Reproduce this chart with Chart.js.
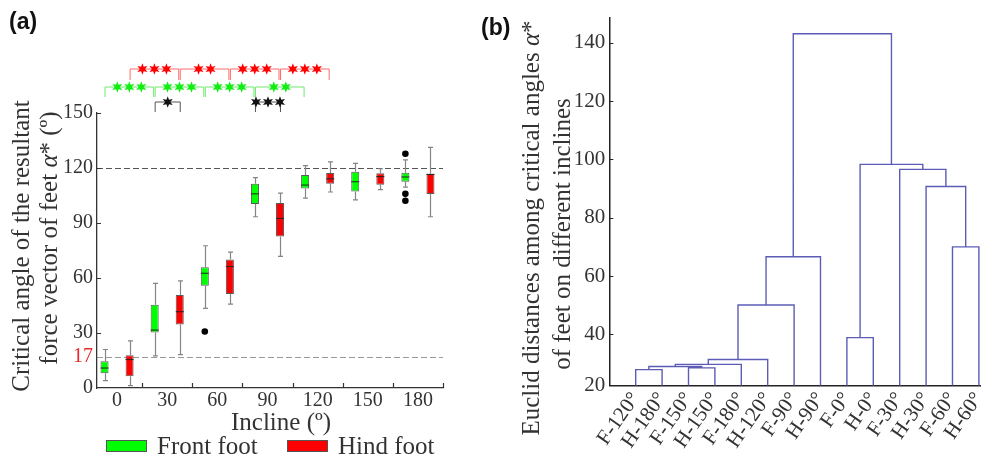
<!DOCTYPE html>
<html><head><meta charset="utf-8">
<script src="https://cdn.jsdelivr.net/npm/chart.js@4.4.0/dist/chart.umd.min.js"></script>
<style>
html,body{margin:0;padding:0;background:#fff;}
#wrap{position:relative;width:981px;height:458px;overflow:hidden;}
canvas{position:absolute;left:0;top:0;}
</style></head><body>
<div id="wrap"><canvas id="ca" width="981" height="458"></canvas><canvas id="cb" width="981" height="458"></canvas></div>
<script>
// ---------- Panel (a) data ----------
const inclines = [0, 30, 60, 90, 120, 150, 180];
const frontMin = [4.0, 17.5, 43.4, 93.4, 103.6, 102.6, 109.6];
const frontQ1  = [8.0, 30.3, 55.8, 100.3, 108.8, 107.2, 112.5];
const frontMed = [10.9, 31.6, 62.6, 105.9, 110.7, 112.5, 115.1];
const frontQ3  = [14.6, 45.4, 65.8, 111.4, 116.2, 118.0, 117.4];
const frontMax = [21.0, 57.1, 77.6, 114.7, 121.3, 122.5, 124.4];
const hindMin  = [1.3, 18.2, 45.8, 71.8, 106.9, 108.2, 93.4];
const hindQ1   = [6.4, 34.6, 51.3, 82.6, 111.4, 110.9, 105.8];
const hindMed  = [15.5, 41.6, 66.2, 92.5, 114.1, 115.3, 116.5];
const hindQ3   = [17.9, 50.7, 70.1, 100.9, 117.3, 117.1, 116.9];
const hindMax  = [25.7, 58.4, 74.1, 106.3, 123.3, 119.6, 131.3];
const frontOutliers = [[60, 30.8], [180, 127.8], [180, 105.9], [180, 102.1]];
const hindOutliers = [];
const yTicksA = [0, 17, 30, 60, 90, 120, 150];
const refLinesA = [17, 120];
const seriesNames = ['Front foot', 'Hind foot'];
// significance: [incline1, incline2, number of stars]
const sigHind  = [[0, 30, 3], [30, 60, 2], [60, 90, 3], [90, 120, 3]];
const sigFront = [[0, 30, 3], [30, 60, 3], [60, 90, 3], [90, 120, 2]];
// front vs hind at same incline: [incline, stars]
const sigFrontHind = [[30, 1], [90, 3]];

// ---------- Panel (b) data ----------
const leafLabels = ['F-120°','H-180°','F-150°','H-150°','F-180°','H-120°','F-90°','H-90°','F-0°','H-0°','F-30°','H-30°','F-60°','H-60°'];
// merges: node ids 0..13 are leaves, 14.. are clusters in merge order
const mergeLeft   = [0, 2, 14, 16, 17, 18, 19, 8, 12, 11, 10, 21, 20];
const mergeRight  = [1, 3, 15, 4, 5, 6, 7, 9, 13, 22, 23, 24, 25];
const mergeHeight = [27.9, 28.5, 29.0, 29.7, 31.4, 50.1, 66.6, 38.9, 70.0, 90.7, 96.6, 98.3, 143.1];
const yMinB = 22.4, yMaxB = 148.5;
const yMinLabelB = '20';
const yTicksB = [40, 60, 80, 100, 120, 140];

// ---------- styling ----------
const serif = "'Liberation Serif','Times New Roman',serif";
const sans = "'Liberation Sans',Arial,sans-serif";
const TXT = '#333333';
const GREEN = '#00ff00', RED = '#ff0000';

function drawRuns(ctx, runs, cx, cy, rotate) {
  ctx.save();
  ctx.translate(cx, cy);
  if (rotate) ctx.rotate(-Math.PI / 2);
  ctx.fillStyle = TXT; ctx.textBaseline = 'middle'; ctx.textAlign = 'left';
  let total = 0;
  runs.forEach(r => { ctx.font = r.f; r.w = ctx.measureText(r.t).width; total += r.w; });
  let x = -total / 2;
  runs.forEach(r => { ctx.font = r.f; ctx.fillText(r.t, x, 0); x += r.w; });
  ctx.restore();
}
function star(ctx, cx, cy, ro, ri) {
  ctx.beginPath();
  for (let k = 0; k < 12; k++) {
    const r = k % 2 ? ri : ro, a = -Math.PI / 2 + k * Math.PI / 6;
    const px = cx + r * Math.cos(a), py = cy + r * Math.sin(a);
    if (k) ctx.lineTo(px, py); else ctx.moveTo(px, py);
  }
  ctx.closePath(); ctx.fill();
}
function bracket(ctx, x1, x2, y, drop, lineColor, n, starColor) {
  ctx.save();
  ctx.strokeStyle = lineColor; ctx.lineWidth = 1;
  ctx.beginPath(); ctx.moveTo(x1, y + drop); ctx.lineTo(x1, y); ctx.lineTo(x2, y); ctx.lineTo(x2, y + drop); ctx.stroke();
  ctx.fillStyle = starColor;
  const cx = (x1 + x2) / 2;
  for (let s = 0; s < n; s++) star(ctx, cx + (s - (n - 1) / 2) * 12, y, 5.8, 2.6);
  ctx.restore();
}

const statsA = [
  {min: frontMin, q1: frontQ1, med: frontMed, q3: frontQ3, max: frontMax, out: frontOutliers},
  {min: hindMin, q1: hindQ1, med: hindMed, q3: hindQ3, max: hindMax, out: hindOutliers}
];

const pluginA = {
  id: 'boxExtras',
  beforeDatasetsDraw(chart) {
    const {ctx, chartArea: ca, scales: {y}} = chart;
    ctx.save();
    ctx.setLineDash([6, 3]); ctx.lineWidth = 1;
    refLinesA.forEach(v => {
      ctx.strokeStyle = v === 17 ? '#9a9a9a' : '#555555';
      const py = Math.round(y.getPixelForValue(v)) + 0.5;
      ctx.beginPath(); ctx.moveTo(ca.left, py); ctx.lineTo(ca.right, py); ctx.stroke();
    });
    ctx.restore();
  },
  afterDatasetsDraw(chart) {
    const {ctx, scales: {y}} = chart;
    ctx.save();
    statsA.forEach((s, di) => {
      const meta = chart.getDatasetMeta(di);
      meta.data.forEach((bar, i) => {
        const bx = Math.round(bar.x) + 0.5, hw = bar.width / 2;
        ctx.strokeStyle = '#858585'; ctx.lineWidth = 1.2;
        const pMax = y.getPixelForValue(s.max[i]), pQ3 = y.getPixelForValue(s.q3[i]);
        const pMin = y.getPixelForValue(s.min[i]), pQ1 = y.getPixelForValue(s.q1[i]);
        ctx.beginPath();
        ctx.moveTo(bx, pQ3); ctx.lineTo(bx, pMax);
        ctx.moveTo(bx - 2.5, pMax); ctx.lineTo(bx + 2.5, pMax);
        ctx.moveTo(bx, pQ1); ctx.lineTo(bx, pMin);
        ctx.moveTo(bx - 2.5, pMin); ctx.lineTo(bx + 2.5, pMin);
        ctx.stroke();
        ctx.strokeStyle = '#222'; ctx.lineWidth = 1;
        const pMed = y.getPixelForValue(s.med[i]);
        ctx.beginPath(); ctx.moveTo(bar.x - hw, pMed); ctx.lineTo(bar.x + hw, pMed); ctx.stroke();
      });
      ctx.fillStyle = '#000';
      s.out.forEach(o => {
        const bar = meta.data[inclines.indexOf(o[0])];
        ctx.beginPath(); ctx.arc(bar.x, y.getPixelForValue(o[1]), 3.3, 0, Math.PI * 2); ctx.fill();
      });
    });
    ctx.restore();
  },
  afterDraw(chart) {
    const {ctx, chartArea: ca, scales: {x, y}} = chart;
    ctx.save();
    // inward tick marks
    ctx.strokeStyle = '#333'; ctx.lineWidth = 1.2;
    ctx.beginPath();
    inclines.forEach(v => {
      const px = Math.round(x.getPixelForValue(v + 15)) + 0.5;
      ctx.moveTo(px, ca.bottom); ctx.lineTo(px, ca.bottom - 5);
    });
    yTicksA.filter(v => v % 30 === 0 && v > 0).forEach(v => {
      const py = Math.round(y.getPixelForValue(v)) + 0.5;
      ctx.moveTo(ca.left, py); ctx.lineTo(ca.left + 4, py);
    });
    ctx.stroke();
    // significance brackets
    const fm = chart.getDatasetMeta(0).data, hm = chart.getDatasetMeta(1).data;
    const bx = (arr, inc) => arr[inclines.indexOf(inc)].x;
    const top = ca.top;
    sigHind.forEach(s => bracket(ctx, bx(hm, s[0]) + 0.5, bx(hm, s[1]) - 1, top - 44, 11, '#ff6a6a', s[2], RED));
    sigFront.forEach(s => bracket(ctx, bx(fm, s[0]) + 0.5, bx(fm, s[1]) - 1, top - 26, 10, '#6ee86e', s[2], '#11ee11'));
    sigFrontHind.forEach(s => bracket(ctx, bx(fm, s[0]) + 0.5, bx(hm, s[0]) + 0.5, top - 11, 10, '#555555', s[1], '#111111'));
    // axis titles
    drawRuns(ctx, [{t: 'Critical angle of the resultant', f: '25px ' + serif}], 22, 246, true);
    drawRuns(ctx, [{t: 'force vector of feet ', f: '25px ' + serif}, {t: 'α', f: 'italic 25px ' + serif}, {t: '* (º)', f: '25px ' + serif}], 50, 238, true);
    drawRuns(ctx, [{t: 'Incline (º)', f: '25px ' + serif}], 281, 423, false);
    // legend
    const legX = [106, 287];
    chart.data.datasets.forEach((ds, i) => {
      ctx.fillStyle = ds.backgroundColor; ctx.strokeStyle = '#555'; ctx.lineWidth = 1;
      ctx.fillRect(legX[i], 440, 41, 12); ctx.strokeRect(legX[i] + 0.5, 440.5, 40, 11);
      ctx.fillStyle = TXT; ctx.font = '25px ' + serif; ctx.textBaseline = 'middle'; ctx.textAlign = 'left';
      ctx.fillText(ds.label, legX[i] + 51, 447);
    });
    // panel label
    ctx.fillStyle = '#111'; ctx.font = 'bold 23px ' + sans; ctx.textBaseline = 'middle'; ctx.textAlign = 'left';
    ctx.fillText('(a)', 9, 23);
    ctx.restore();
  }
};

new Chart(document.getElementById('ca'), {
  type: 'bar',
  data: {
    datasets: [
      {label: seriesNames[0], data: inclines.map((v, i) => ({x: v, y: [frontQ1[i], frontQ3[i]]})),
       backgroundColor: GREEN, borderColor: '#5a5a5a', borderWidth: 1, borderSkipped: false,
       barPercentage: 0.32, categoryPercentage: 1.0},
      {label: seriesNames[1], data: inclines.map((v, i) => ({x: v, y: [hindQ1[i], hindQ3[i]]})),
       backgroundColor: RED, borderColor: '#5a5a5a', borderWidth: 1, borderSkipped: false,
       barPercentage: 0.32, categoryPercentage: 1.0}
    ]
  },
  options: {
    responsive: false, animation: false, devicePixelRatio: 1,
    layout: {padding: {left: 57, right: 538, top: 113, bottom: 22}},
    plugins: {legend: {display: false}, tooltip: {enabled: false}},
    scales: {
      x: {type: 'linear', min: -12, max: 195, offset: false,
        afterBuildTicks(s) { s.ticks = inclines.map(v => ({value: v})); },
        afterFit(s) { s.height = 48; s.paddingLeft = 0; s.paddingRight = 0; },
        ticks: {font: {family: serif, size: 20}, color: TXT, padding: 1, maxRotation: 0, autoSkip: false},
        grid: {drawOnChartArea: false, drawTicks: false, offset: false},
        border: {color: '#333', width: 1.3}},
      y: {type: 'linear', min: 0, max: 150,
        afterBuildTicks(s) { s.ticks = yTicksA.map(v => ({value: v})); },
        afterFit(s) { s.width = 40; s.paddingTop = 0; s.paddingBottom = 0; },
        ticks: {font: {family: serif, size: 20}, color: c => (c.tick && c.tick.value === 17) ? '#e8282a' : TXT, padding: 4},
        grid: {drawOnChartArea: false, drawTicks: false},
        border: {color: '#333', width: 1.3}}
    }
  },
  plugins: [pluginA]
});

// ---------- Panel (b) ----------
const nodeX = leafLabels.map((_, i) => i + 1);
const nodeH = leafLabels.map(() => yMinB);
const dendroPts = [];
mergeLeft.forEach((l, k) => {
  const r = mergeRight[k], h = mergeHeight[k];
  dendroPts.push({x: nodeX[l], y: nodeH[l]}, {x: nodeX[l], y: h}, {x: nodeX[r], y: h}, {x: nodeX[r], y: nodeH[r]}, {x: nodeX[r], y: null});
  nodeX.push((nodeX[l] + nodeX[r]) / 2); nodeH.push(h);
});

const pluginB = {
  id: 'dendroExtras',
  afterDraw(chart) {
    const {ctx, chartArea: ca, scales: {y}} = chart;
    ctx.save();
    ctx.strokeStyle = '#222'; ctx.lineWidth = 1.2;
    ctx.beginPath();
    yTicksB.forEach(v => {
      const py = Math.round(y.getPixelForValue(v)) + 0.5;
      ctx.moveTo(ca.left, py); ctx.lineTo(ca.left + 4, py);
    });
    ctx.stroke();
    drawRuns(ctx, [{t: 'Euclid distances among critical angles ', f: '25px ' + serif}, {t: 'α', f: 'italic 25px ' + serif}, {t: '*', f: '25px ' + serif}], 532, 228, true);
    drawRuns(ctx, [{t: 'of feet on different inclines', f: '25px ' + serif}], 563, 234, true);
    ctx.fillStyle = '#111'; ctx.font = 'bold 23px ' + sans; ctx.textBaseline = 'middle'; ctx.textAlign = 'left';
    ctx.fillText('(b)', 481, 29);
    ctx.restore();
  }
};

new Chart(document.getElementById('cb'), {
  type: 'scatter',
  data: {datasets: [{label: 'dendrogram', data: dendroPts, showLine: true, spanGaps: false,
    borderColor: '#5c5cb6', borderWidth: 1.4, pointRadius: 0, tension: 0, fill: false}]},
  options: {
    responsive: false, animation: false, devicePixelRatio: 1,
    layout: {padding: {left: 569.3, right: 0, top: 18, bottom: 0}},
    plugins: {legend: {display: false}, tooltip: {enabled: false}},
    scales: {
      x: {type: 'linear', min: 0, max: 14.08,
        afterBuildTicks(s) { s.ticks = leafLabels.map((_, i) => ({value: i + 1})); },
        afterFit(s) { s.height = 72.3; s.paddingLeft = 0; s.paddingRight = 0; },
        ticks: {font: {family: serif, size: 21}, color: TXT, minRotation: 55, maxRotation: 55, autoSkip: false, padding: 2,
          callback: v => leafLabels[Math.round(v) - 1] || ''},
        grid: {drawOnChartArea: false, drawTicks: false},
        border: {color: '#222', width: 1.5}},
      y: {type: 'linear', min: yMinB, max: yMaxB,
        afterBuildTicks(s) { s.ticks = [yMinB].concat(yTicksB).map(v => ({value: v})); },
        afterFit(s) { s.width = 40; s.paddingTop = 0; s.paddingBottom = 0; },
        ticks: {font: {family: serif, size: 21}, color: TXT, padding: 4,
          callback: v => v === yMinB ? yMinLabelB : String(v)},
        grid: {drawOnChartArea: false, drawTicks: false},
        border: {color: '#222', width: 1.5}}
    }
  },
  plugins: [pluginB]
});
</script>
</body></html>
